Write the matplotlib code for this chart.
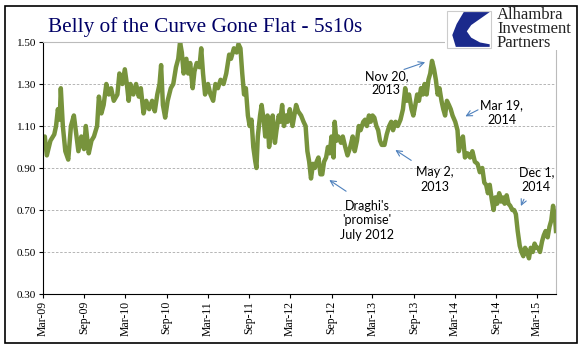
import numpy as np
import matplotlib.pyplot as plt
import matplotlib.dates as mdates
from matplotlib.patches import Rectangle, Polygon

# days since 1 Mar 2009 and the 5s10s spread
days = [0, 8, 17, 33, 50, 58, 66, 74, 79, 88, 99, 112, 124, 137, 149, 157, 170, 182, 190, 203,
        215, 226, 240, 248, 259, 269, 281, 292, 302, 314, 330, 339, 352, 363, 372, 380, 388, 401,
        413, 425, 434, 446, 458, 471, 484, 496, 507, 517, 524, 532, 542, 553, 567, 578, 590, 600,
        608, 616, 624, 636, 644, 653, 664, 672, 682, 694, 702, 710, 719, 732, 743, 755, 765, 776,
        788, 801, 813, 826, 834, 847, 859, 867, 876, 884, 892, 900, 909, 917, 925, 933, 942, 947,
        953, 963, 970, 980, 986, 996, 1003, 1013, 1019, 1029, 1036, 1046, 1052, 1061, 1069, 1079,
        1085, 1095, 1107, 1115, 1123, 1132, 1145, 1156, 1165, 1173, 1181, 1189, 1198, 1206, 1214,
        1222, 1231, 1239, 1247, 1256, 1264, 1272, 1280, 1289, 1294, 1302, 1310, 1322, 1330, 1341,
        1351, 1363, 1374, 1383, 1393, 1401, 1409, 1421, 1429, 1437, 1446, 1454, 1462, 1470, 1479,
        1487, 1495, 1503, 1515, 1525, 1536, 1545, 1553, 1564, 1574, 1586, 1597, 1607, 1614, 1624,
        1635, 1643, 1652, 1660, 1668, 1677, 1685, 1693, 1702, 1710, 1718, 1726, 1735, 1743, 1751,
        1759, 1768, 1776, 1784, 1792, 1801, 1809, 1817, 1829, 1839, 1845, 1855, 1863, 1872, 1883,
        1895, 1905, 1916, 1928, 1938, 1949, 1958, 1966, 1974, 1982, 1991, 1999, 2007, 2015, 2024,
        2032, 2040, 2048, 2057, 2065, 2073, 2082, 2090, 2098, 2106, 2115, 2123, 2131, 2139, 2148,
        2156, 2164, 2173, 2181, 2189, 2197, 2205, 2214, 2222, 2230, 2239, 2247, 2255, 2263, 2272,
        2276]
spread = [1.00, 1.05, 0.96, 1.03, 1.06, 1.10, 1.18, 1.13, 1.28, 1.10, 0.98, 0.94, 1.10, 1.15,
          1.05, 0.98, 1.05, 0.99, 1.10, 0.97, 1.03, 1.05, 1.10, 1.24, 1.16, 1.20, 1.30, 1.25,
          1.28, 1.22, 1.25, 1.35, 1.30, 1.37, 1.30, 1.22, 1.30, 1.25, 1.30, 1.24, 1.28, 1.16,
          1.22, 1.18, 1.22, 1.17, 1.25, 1.30, 1.39, 1.20, 1.14, 1.22, 1.28, 1.30, 1.38, 1.42,
          1.50, 1.45, 1.35, 1.42, 1.35, 1.40, 1.28, 1.36, 1.40, 1.38, 1.47, 1.35, 1.25, 1.30,
          1.25, 1.22, 1.30, 1.28, 1.32, 1.30, 1.35, 1.44, 1.42, 1.47, 1.45, 1.49, 1.47, 1.35,
          1.25, 1.28, 1.15, 1.10, 1.13, 1.00, 0.93, 0.90, 1.05, 1.15, 1.20, 1.12, 1.05, 1.15,
          1.00, 1.08, 1.15, 1.02, 1.08, 1.15, 1.12, 1.20, 1.10, 1.15, 1.12, 1.18, 1.10, 1.15,
          1.20, 1.17, 1.15, 1.12, 1.10, 0.98, 0.93, 0.85, 0.92, 0.90, 0.93, 0.95, 0.87, 0.87,
          0.93, 0.95, 1.00, 0.97, 1.05, 0.95, 1.12, 1.03, 1.05, 1.02, 1.05, 1.00, 0.96, 1.00,
          1.05, 0.98, 1.03, 1.10, 1.08, 1.12, 1.13, 1.10, 1.15, 1.12, 1.15, 1.14, 1.10, 1.08,
          1.03, 1.01, 1.01, 1.06, 1.10, 1.12, 1.08, 1.12, 1.10, 1.13, 1.18, 1.28, 1.22, 1.25,
          1.18, 1.15, 1.20, 1.25, 1.22, 1.28, 1.25, 1.30, 1.25, 1.32, 1.35, 1.41, 1.37, 1.32,
          1.25, 1.28, 1.22, 1.18, 1.15, 1.22, 1.20, 1.18, 1.15, 1.12, 1.08, 0.98, 1.03, 1.05,
          0.95, 0.97, 0.95, 0.98, 0.93, 0.92, 0.88, 0.90, 0.83, 0.82, 0.78, 0.82, 0.75, 0.70,
          0.76, 0.73, 0.78, 0.74, 0.76, 0.73, 0.77, 0.73, 0.72, 0.70, 0.70, 0.68, 0.60, 0.53,
          0.50, 0.48, 0.52, 0.50, 0.47, 0.52, 0.50, 0.54, 0.52, 0.52, 0.50, 0.55, 0.58, 0.60,
          0.57, 0.62, 0.65, 0.72, 0.66, 0.60]

start = np.datetime64('2009-03-01')
dates = start + np.array(days).astype('timedelta64[D]')

# annotations: label, text pos (day, value), arrow tail, arrow head
notes = [
    ("Nov 20,\n2013", (1523, 1.305), (1590, 1.365), (1707, 1.408)),
    ("Mar 19,\n2014", (2035, 1.165), (1941, 1.183), (1863, 1.140)),
    ("May 2,\n2013", (1740, 0.845), (1644, 0.929), (1553, 0.993)),
    ("Dec 1,\n2014", (2189, 0.845), (2139, 0.763), (2115, 0.707)),
    ("Draghi's\n'promise'\nJuly 2012", (1437, 0.650), (1355, 0.782), (1260, 0.850)),
]

fig = plt.figure(figsize=(5.83, 3.61), dpi=100)
ax = fig.add_axes([43/583, 1-294/361, 513/583, 252/361])

ax.plot(dates, spread, color='#77933C', lw=3.2, solid_joinstyle='round')

ax.set_ylim(0.30, 1.50)
ax.set_yticks(np.arange(0.30, 1.51, 0.2))
ax.set_yticklabels(['%.2f' % v for v in np.arange(0.30, 1.51, 0.2)],
                   family='Liberation Serif', fontsize=8)
ax.set_xlim(start, np.datetime64('2015-05-25'))
ax.xaxis.set_major_locator(mdates.MonthLocator(bymonth=[3, 9]))
ax.xaxis.set_major_formatter(mdates.DateFormatter('%b-%y'))
for lab in ax.get_xticklabels():
    lab.set_rotation(90)
    lab.set_family('Liberation Serif')
    lab.set_fontsize(8.5)
ax.tick_params(direction='out', length=3, width=0.8, pad=2)
ax.grid(axis='y', color='#aaaaaa', ls=(0, (3, 2)), lw=0.6)
ax.spines['top'].set_color('#bbbbbb')
ax.spines['right'].set_color('#bbbbbb')

for label, tpos, tail, head in notes:
    ax.text(start + np.timedelta64(tpos[0], 'D'), tpos[1], label, ha='center', va='center',
            family='Lato', fontsize=9, linespacing=1.25)
    ax.annotate('', xy=(start + np.timedelta64(head[0], 'D'), head[1]),
                xytext=(start + np.timedelta64(tail[0], 'D'), tail[1]),
                arrowprops=dict(arrowstyle='->', color='#4F81BD', lw=0.8))

fig.text(48/583, 1-27/361, 'Belly of the Curve Gone Flat - 5s10s', family='Liberation Serif',
         fontsize=15.3, color='#000066', va='center')

# logo
fig.patches.append(Rectangle((445/583, 1-50/361), 131/583, 44/361, transform=fig.transFigure,
                             facecolor='white', edgecolor='none', zorder=5))
bx, by, bw, bh = 447/583, 1-48/361, 44/583, 37/361
fig.patches.append(Rectangle((bx, by), bw, bh, transform=fig.transFigure,
                             facecolor='white', edgecolor='#cccccc', lw=0.8, zorder=6))
shape = [(0.38, 0.97), (0.97, 0.97), (0.55, 0.62), (0.45, 0.45), (0.55, 0.28), (0.75, 0.15),
         (0.97, 0.10), (0.97, 0.03), (0.20, 0.03), (0.12, 0.35), (0.22, 0.65)]
fig.patches.append(Polygon([(bx + u*bw, by + v*bh) for u, v in shape], closed=True,
                           transform=fig.transFigure, facecolor='#1b2a8c', edgecolor='none', zorder=7))
fig.text(497/583, 1-29/361, 'Alhambra\nInvestment\nPartners', family='Liberation Serif',
         fontsize=12, color='#222222', va='center', linespacing=0.8, zorder=8)

# outer frame
fig.patches.append(Rectangle((5/583, 1-343/361), 572/583, 337/361, transform=fig.transFigure,
                             fill=False, edgecolor='black', lw=1.2, zorder=9))

fig.savefig('out.png', dpi=100)
